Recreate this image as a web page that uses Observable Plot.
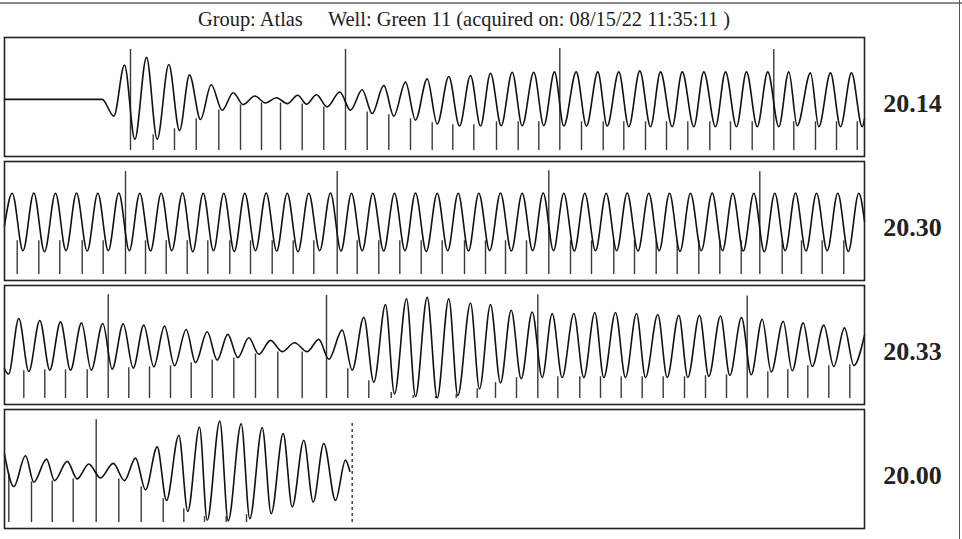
<!DOCTYPE html>
<html>
<head>
<meta charset="utf-8">
<script src="https://cdn.jsdelivr.net/npm/d3@7"></script>
<script src="https://cdn.jsdelivr.net/npm/@observablehq/plot@0.6"></script>
<style>
  html, body { margin: 0; padding: 0; background: #fff; }
  #wrap { position: relative; width: 962px; height: 539px; overflow: hidden; }
  #title { position: absolute; left: 198px; top: 9px; font-family: "Liberation Serif", "Times New Roman", serif;
           font-size: 20.4px; line-height: 20px; color: #222; white-space: pre; }
  #pageTop { position: absolute; left: 0; top: 2px; width: 962px; height: 0; border-top: 2px solid #8a8a8a; }
  #pageRight { position: absolute; left: 959px; top: 0; width: 0; height: 539px; border-left: 1.5px solid #555; }
  svg { position: absolute; left: 0; top: 0; }
</style>
</head>
<body>
<div id="wrap">
  <div id="pageTop"></div>
  <div id="pageRight"></div>
  <div id="title"></div>
</div>
<script>
// ---------- text ----------
const titleGroup = "Group: Atlas";
const titleWell = "Well: Green 11 (acquired on: 08/15/22 11:35:11 )";
const panelLabels = ["20.14", "20.30", "20.33", "20.00"];

// ---------- waveform extrema [time, level] per strip ----------
const wave1 = [[4,57.6],[101.7,57.6],[113.3,40.7],[124,92.3],[134.3,17.3],[146,100],[156.7,17.3],[168.3,92.7],[179,26],[189,82.3],[200,37.3],[210.7,72.3],[221.7,46.7],[232.7,64.3],[242.7,52.3],[254.3,61],[265,54],[276,59.3],[286.7,53.3],[297.3,61.7],[306,52.7],[316,62.3],[326.7,50],[339.3,65],[350,46.7],[361.7,67.3],[371.7,43.3],[383.3,71.7],[393.3,40.7],[405,75],[415,36.7],[426.7,78.3],[436.7,32.7],[448.3,80.7],[459,30.7],[470,81.7],[480,30.7],[490,84],[500.7,31],[511.7,85],[521.7,31],[533.3,85],[543.3,31],[554,85.3],[563.3,30.7],[575.7,85.3],[586,30.7],[597.3,85.3],[606.7,30.7],[618.3,85.3],[628.3,30],[639.3,86.3],[650,30],[660,85.3],[671.7,30],[681.7,85.3],[693.3,30],[703.3,85.3],[715,30],[725,85.3],[736,30],[746,85.3],[756.7,30],[767.3,85.3],[778.3,30],[788.3,85.3],[796.7,31],[810,84.3],[818.3,30],[830,84.3],[840,30],[851,84.3],[861.7,30],[864,38]];
const wave2 = [[4,55],[11.7,88],[22.5,30],[33.3,88.3],[44,29],[55,88],[65.5,30],[76,88.3],[86.7,29.7],[97.3,88],[107.8,30],[118.3,88.3],[128.8,30],[139.3,88],[150,29.7],[160.7,88],[171.3,30],[182,88.3],[192.3,29],[202.7,88],[213,30],[223.3,88],[233.8,29.3],[244.3,88],[255,30],[265.7,88.3],[276.2,29.7],[286.7,88],[297.5,29],[308.3,88],[319.2,30],[330,88.3],[340.5,29.7],[351,88],[361.7,30],[372.3,88],[383.2,29.7],[394,88],[404.5,30],[415,88.3],[425.8,29.3],[436.7,88],[447.2,30],[457.7,88],[468,29.7],[478.3,88],[489.2,30],[500,88.3],[510.8,29.7],[521.7,88],[532.2,30],[542.7,88.3],[553,30],[563.3,88],[573.8,29.7],[584.3,88],[595,30],[605.7,88],[616.2,30],[626.7,88.3],[637.5,29.7],[648.3,88],[658.7,30],[669,88],[679.5,29.3],[690,88],[700.8,30],[711.7,88.3],[722,30],[732.3,88],[742.8,29.7],[753.3,88],[763.8,29],[774.3,88],[784.7,30],[795,88.3],[805.5,29.7],[816,88],[826.7,30],[837.3,88],[847.8,29.3],[858.3,88],[864,60]];
const wave3 = [[4,36],[8,30.7],[18.3,86.7],[28.3,33.3],[39.3,84.7],[49.3,34.7],[60,83.3],[70,34.7],[81,82.3],[90.7,34.7],[102.3,81.7],[111.7,35.7],[122.7,81.3],[132.7,36.7],[143.3,80],[153.3,38],[164,79],[174,39],[185.7,75.7],[195,42.3],[206.7,73.3],[216.7,44.7],[227.3,70.7],[237.3,47.3],[248.3,67.3],[258.3,50.7],[270,64.7],[281.7,53.3],[294,62.3],[306.7,53.3],[318.3,65.7],[328.3,45.7],[341.7,75],[351.7,34.7],[363.3,88],[373.3,22.3],[385,100.7],[394,10.7],[406,106.7],[415,8],[426.7,108],[436.7,6.7],[448.3,106.7],[457.3,9],[470,102.3],[479,15.7],[490,100.7],[500,21.7],[510.7,95],[520.7,26],[531.7,93.3],[541.7,27.3],[551.7,91.7],[561.7,27.3],[573.3,91.7],[583.3,27.3],[594.3,92.7],[603.3,27.3],[615,92.7],[625,27.3],[636,91.7],[645,27.3],[657.3,90.7],[666.7,27.3],[678.3,90],[687.3,27.3],[699,90],[708.3,28.3],[720,89.3],[729.3,29.3],[741,87.7],[750.7,30],[761.7,86],[770.7,32.7],[782.7,84],[791.7,34],[802.7,82.3],[811.7,38.3],[823.3,80],[833.3,38.3],[844,77.3],[853.3,39.3],[864,70]];
const wave4 = [[4,75],[13.3,42.3],[25,73.3],[33.3,46.7],[46,70],[54,48.3],[66.7,67.7],[76.7,50],[88.3,65],[100,51],[112.7,65.7],[124,48.3],[135,71],[145,39],[156.7,82.3],[166,28.3],[178.3,94],[187.3,17.3],[199,102.3],[206.7,8.3],[219.3,108.3],[227.7,7.7],[240.7,105.7],[249.3,10],[261.7,101.7],[270.7,15],[282.7,95.7],[291.7,21.7],[303.3,89],[312.7,26.7],[323.3,85.7],[335,28.3],[345,69],[349.3,57.7]];

// ---------- beat marker spikes: times and upper levels ----------
const spikeX1 = [130,152.7,174,195.7,218.3,240,261,280,301.7,323.3,345,366.7,388.3,410,431.7,452.3,473.3,496,517.7,538.3,559.3,581,602.7,623.3,645,666,687.3,709.3,730,751.7,773.3,793.3,815,836,856.7];
const spikeTop1 = [108,22,28,38,47,52,54,54,53,50,108,45,42,38,34,32,32,35,35,35,109,35,35,35,35,35,35,35,35,35,108,35,35,35,35];
const spikeX2 = [16.7,38.3,59.3,81.7,102.7,125,145,165.7,186.7,207.3,229.3,250,271.7,292.7,313.3,336.7,356.7,378.3,399.3,420.7,441.7,464,485,505,526,548.3,570,591,613.3,634,655.7,676.7,698.3,719.3,740.7,759.3,781.7,801,821.7,843.3];
const spikeTop2 = [40,40,40,40,40,110,40,40,40,40,40,40,40,40,40,110,40,40,40,40,40,40,40,40,40,110.7,40,40,40,40,40,40,40,40,40,110,40,40,40,40];
const spikeX3 = [23.3,44.3,65,86.7,107.7,128.3,149,170,190.7,211.7,233.3,255,277.3,301.7,326,347.3,368.3,390.7,412.7,435,455.7,476.7,495,516,537.3,557.3,579.3,600,620.7,641.7,662.7,684,705,726,746.7,767.3,787.3,807.3,828.3,849.3];
const spikeTop3 = [34,35,35,35,110.7,37,38,39,42,45,47,51,53,53,110,36,24,12,9,8,10,16,22,27,110.7,28,28,28,28,28,28,28,29,30,109.3,33,35,39,39,40];
const spikeX4 = [8.3,31,51.7,72.7,95.7,118.3,140.7,162.7,183.3,204,225.7,246];
const spikeTop4 = [55,47,48,50,110,50,42,30,20,12,12,14];
const spikeBase = 6;
const recordingEndX = 351.7;   // end of acquisition on last strip
const recordingEndTop = 108;

// ---------- assemble ----------
const waves = [wave1, wave2, wave3, wave4].flatMap((w, i) => w.map(([x, h]) => ({panel: i, x, h})));
const spikes = [[spikeX1, spikeTop1], [spikeX2, spikeTop2], [spikeX3, spikeTop3], [spikeX4, spikeTop4]]
  .flatMap(([xs, tops], i) => xs.map((x, j) => ({panel: i, x, top: tops[j]})));
const endMark = [{panel: 3, x: recordingEndX, top: recordingEndTop}];
const labels = panelLabels.map((t, i) => ({panel: i, t}));

document.getElementById("title").textContent = titleGroup + "     " + titleWell;

const chart = Plot.plot({
  width: 962,
  height: 539,
  marginTop: 36,
  marginBottom: 9,
  marginLeft: 4,
  marginRight: 98,
  style: {background: "transparent"},
  x: {domain: [4, 864], axis: null},
  y: {domain: [0, 120], axis: null},
  fy: {domain: [0, 1, 2, 3], paddingInner: 0.04, paddingOuter: 0, axis: null},
  marks: [
    Plot.ruleX(spikes, {x: "x", y1: spikeBase, y2: "top", fy: "panel", stroke: "#3a3a3a", strokeWidth: 1.4}),
    Plot.line(waves, {x: "x", y: "h", fy: "panel", curve: "monotone-x", stroke: "#111", strokeWidth: 1.6}),
    Plot.ruleX(endMark, {x: "x", y1: spikeBase, y2: "top", fy: "panel", stroke: "#333", strokeWidth: 1.4, strokeDasharray: "3,3"}),
    Plot.frame({stroke: "#222", strokeWidth: 1.6}),
    Plot.text(labels, {fy: "panel", text: "t", frameAnchor: "right", textAnchor: "middle", dx: 48, dy: 7, fontSize: 26,
      fontWeight: "bold", fontFamily: "Liberation Serif", fill: "#222"})
  ]
});
document.getElementById("wrap").appendChild(chart);
</script>
</body>
</html>
